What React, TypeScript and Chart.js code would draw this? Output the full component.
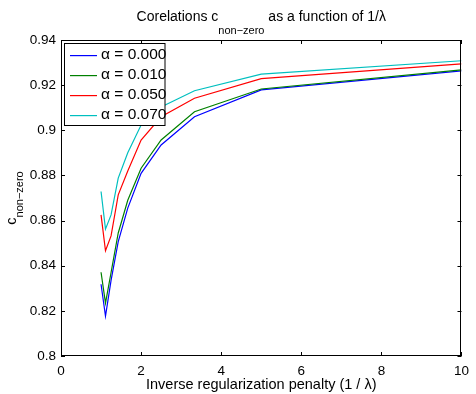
import React, { useEffect, useRef } from "react";
import { Chart, registerables } from "chart.js";

Chart.register(...registerables);

const invLambda = [1, 1.111, 1.25, 1.429, 1.667, 2, 2.5, 3.333, 5, 10];
const alpha000 = [0.8318, 0.8177, 0.8335, 0.8507, 0.8655, 0.8809, 0.8935, 0.906, 0.9179, 0.9263];
const alpha010 = [0.8371, 0.8234, 0.837, 0.8545, 0.869, 0.8832, 0.8957, 0.9082, 0.9183, 0.9268];
const alpha050 = [0.8625, 0.8466, 0.8532, 0.8714, 0.882, 0.8957, 0.906, 0.9142, 0.9229, 0.9294];
const alpha070 = [0.8729, 0.8562, 0.8625, 0.8788, 0.89, 0.9023, 0.9103, 0.9175, 0.9249, 0.9308];

const seriesLabels = ["α = 0.000", "α = 0.010", "α = 0.050", "α = 0.070"];
const seriesColors = ["#0000ff", "#008000", "#ff0000", "#00bfbf"];
const seriesValues = [alpha000, alpha010, alpha050, alpha070];

const xTicks = [0, 2, 4, 6, 8, 10];
const yTicks = [0.8, 0.82, 0.84, 0.86, 0.88, 0.9, 0.92, 0.94];

const titleMain = "Corelations c";
const titleSub = "non\u2212zero";
const titleRest = " as a function of 1/\u03bb";
const xLabel = "Inverse regularization penalty (1 / \u03bb)";
const yLabelMain = "c";
const yLabelSub = "non\u2212zero";

const FONT = '"Liberation Sans", Arial, Helvetica, sans-serif';

const decorPlugin = {
  id: "decor",
  afterDraw(chart: any) {
    const ctx = chart.ctx as CanvasRenderingContext2D;
    const { left, right, top, bottom } = chart.chartArea;
    const xs = chart.scales.x;
    const ys = chart.scales.y;
    ctx.save();
    // box
    ctx.strokeStyle = "#000";
    ctx.lineWidth = 1;
    ctx.strokeRect(Math.round(left) + 0.5, Math.round(top) + 0.5, Math.round(right - left) - 1, Math.round(bottom - top) - 1);
    // ticks
    ctx.beginPath();
    const tl = 4;
    xTicks.forEach((v) => {
      const px = Math.round(xs.getPixelForValue(v)) + 0.5;
      ctx.moveTo(px, bottom);
      ctx.lineTo(px, bottom - tl);
      ctx.moveTo(px, top);
      ctx.lineTo(px, top + tl);
    });
    yTicks.forEach((v) => {
      const py = Math.round(ys.getPixelForValue(v)) + 0.5;
      ctx.moveTo(left, py);
      ctx.lineTo(left + tl, py);
      ctx.moveTo(right, py);
      ctx.lineTo(right - tl, py);
    });
    ctx.stroke();

    // title
    ctx.fillStyle = "#000";
    ctx.textBaseline = "alphabetic";
    const mainFont = `14px ${FONT}`;
    const subFont = `11px ${FONT}`;
    ctx.font = mainFont;
    const w1 = ctx.measureText(titleMain).width;
    const w3 = ctx.measureText(titleRest).width;
    ctx.font = subFont;
    const w2 = ctx.measureText(titleSub).width;
    const cx = (left + right) / 2;
    let tx = cx - (w1 + w2 + w3) / 2;
    ctx.textAlign = "left";
    ctx.font = mainFont;
    ctx.fillText(titleMain, tx, 21);
    tx += w1;
    ctx.font = subFont;
    ctx.fillText(titleSub, tx, 34);
    tx += w2;
    ctx.font = mainFont;
    ctx.fillText(titleRest, tx, 21);

    // x label
    ctx.font = `14.5px ${FONT}`;
    ctx.textAlign = "center";
    ctx.fillText(xLabel, cx, 389);

    // y label
    ctx.save();
    const cy = (top + bottom) / 2;
    ctx.rotate(-Math.PI / 2);
    ctx.font = `14.5px ${FONT}`;
    const yw1 = ctx.measureText(yLabelMain).width;
    ctx.font = `11px ${FONT}`;
    const yw2 = ctx.measureText(yLabelSub).width;
    let ly = -cy - (yw1 + yw2) / 2;
    ctx.textAlign = "left";
    ctx.font = `14.5px ${FONT}`;
    ctx.fillText(yLabelMain, ly, 15.5);
    ly += yw1;
    ctx.font = `11px ${FONT}`;
    ctx.fillText(yLabelSub, ly, 23);
    ctx.restore();

    // legend
    const lx = 64.5, lyTop = 43.5, lw = 100.5, lh = 82;
    ctx.fillStyle = "#fff";
    ctx.fillRect(lx, lyTop, lw, lh);
    ctx.strokeStyle = "#000";
    ctx.lineWidth = 1;
    ctx.strokeRect(lx, lyTop, lw, lh);
    ctx.font = `15.5px ${FONT}`;
    ctx.textAlign = "left";
    ctx.textBaseline = "middle";
    seriesLabels.forEach((lab, i) => {
      const y = 55 + i * 20;
      ctx.fillStyle = seriesColors[i];
      ctx.fillRect(70, y, 27, 1.2);
      ctx.fillStyle = "#000";
      ctx.fillText(lab, 101, y);
    });
    ctx.restore();
  },
};

export default function App() {
  const ref = useRef<HTMLCanvasElement | null>(null);
  useEffect(() => {
    if (!ref.current) return;
    const chart = new Chart(ref.current, {
      type: "line",
      data: {
        datasets: seriesValues.map((vals, i) => ({
          label: seriesLabels[i],
          data: invLambda.map((x, j) => ({ x, y: vals[j] })),
          borderColor: seriesColors[i],
          backgroundColor: seriesColors[i],
          borderWidth: 1.2,
          pointRadius: 0,
          tension: 0,
          fill: false,
          order: 3 - i,
        })),
      },
      options: {
        responsive: false,
        animation: false,
        devicePixelRatio: 1,
        layout: { padding: { left: 0, top: 40, right: 9, bottom: 0 } },
        plugins: { legend: { display: false }, title: { display: false }, tooltip: { enabled: false } },
        scales: {
          x: {
            type: "linear",
            min: 0,
            max: 10,
            afterFit: (s: any) => { s.height = 38; },
            afterBuildTicks: (s: any) => { s.ticks = xTicks.map((v) => ({ value: v })); },
            grid: { display: false, drawTicks: false },
            border: { display: false },
            ticks: { color: "#000", padding: 7, font: { size: 13.5, family: FONT }, maxRotation: 0, autoSkip: false, callback: (v: any) => String(v) },
          },
          y: {
            type: "linear",
            min: 0.8,
            max: 0.94,
            afterFit: (s: any) => { s.width = 61; },
            afterBuildTicks: (s: any) => { s.ticks = yTicks.map((v) => ({ value: v })); },
            grid: { display: false, drawTicks: false },
            border: { display: false },
            ticks: { color: "#000", padding: 5, font: { size: 13.5, family: FONT }, autoSkip: false, callback: (v: any) => String(+Number(v).toFixed(2)) },
          },
        },
      },
      plugins: [decorPlugin],
    } as any);
    return () => chart.destroy();
  }, []);
  return (
    <div style={{ position: "fixed", left: 0, top: 0, width: 476, height: 394, background: "#fff" }}>
      <canvas ref={ref} width={476} height={394} style={{ display: "block" }} />
    </div>
  );
}
